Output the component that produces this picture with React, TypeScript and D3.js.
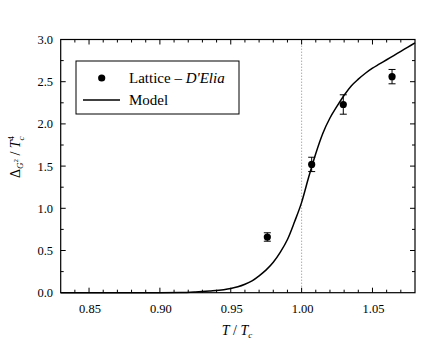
import React from "react";
import * as d3 from "d3";

const modelT = [0.83, 0.9, 0.915, 0.925, 0.935, 0.945, 0.95, 0.955, 0.96, 0.965, 0.97, 0.975, 0.98, 0.985, 0.99, 0.995, 1.0, 1.005, 1.01, 1.015, 1.02, 1.025, 1.03, 1.035, 1.04, 1.045, 1.05, 1.055, 1.06, 1.065, 1.07, 1.075, 1.08];
const modelV = [0, 0, 0.001, 0.008, 0.02, 0.036, 0.05, 0.07, 0.1, 0.14, 0.2, 0.27, 0.36, 0.48, 0.63, 0.84, 1.07, 1.37, 1.65, 1.89, 2.07, 2.21, 2.34, 2.45, 2.53, 2.6, 2.66, 2.71, 2.76, 2.81, 2.86, 2.91, 2.96];

const latticeT = [0.9758, 1.0071, 1.0294, 1.0638];
const latticeV = [0.66, 1.52, 2.23, 2.56];
const latticeErr = [0.05, 0.085, 0.115, 0.085];

const xTicks = [0.85, 0.9, 0.95, 1.0, 1.05];
const yTicks = [0, 0.5, 1.0, 1.5, 2.0, 2.5, 3.0];

const W = 436, H = 351;
const L = 60.7, R = 415, T = 39.5, B = 292.7;
const font = "'Liberation Serif', 'Times New Roman', serif";

export default function App() {
  const x = d3.scaleLinear().domain([0.83, 1.08]).range([L, R]);
  const y = d3.scaleLinear().domain([0, 3]).range([B, T]);
  const line = d3.line<number>().x((_, i) => x(modelT[i])).y((d) => y(d)).curve(d3.curveMonotoneX);

  const xMinor = d3.range(84, 108).map((v) => v / 100);
  const yMinor = d3.range(1, 12).map((v) => v * 0.25);

  return (
    <svg width={W} height={H} style={{ position: "absolute", left: 0, top: 0, background: "#fff", fontFamily: font }}>
      <rect width={W} height={H} fill="#fff" />
      <line x1={x(1.0)} x2={x(1.0)} y1={B} y2={T} stroke="#888" strokeWidth={1} strokeDasharray="1,2" />
      {xMinor.map((v, i) => {
        const major = xTicks.some((t) => Math.abs(t - v) < 1e-6);
        const len = major ? 5 : 3;
        return (
          <g key={"xt" + i}>
            <line x1={x(v)} x2={x(v)} y1={B} y2={B - len} stroke="#000" strokeWidth={1} />
            <line x1={x(v)} x2={x(v)} y1={T} y2={T + len} stroke="#000" strokeWidth={1} />
          </g>
        );
      })}
      {yMinor.map((v, i) => {
        const major = Math.abs(v * 2 - Math.round(v * 2)) < 1e-6;
        const len = major ? 5 : 3;
        return (
          <g key={"yt" + i}>
            <line x1={L} x2={L + len} y1={y(v)} y2={y(v)} stroke="#000" strokeWidth={1} />
            <line x1={R} x2={R - len} y1={y(v)} y2={y(v)} stroke="#000" strokeWidth={1} />
          </g>
        );
      })}
      <rect x={L} y={T} width={R - L} height={B - T} fill="none" stroke="#000" strokeWidth={1.2} />
      {xTicks.map((t) => (
        <text key={"xl" + t} x={x(t) + 1} y={313} textAnchor="middle" fontSize={12.5} fontFamily={font}>
          {t.toFixed(2)}
        </text>
      ))}
      {yTicks.map((t) => (
        <text key={"yl" + t} x={53} y={y(t) + 4.5} textAnchor="end" fontSize={12.5} fontFamily={font}>
          {t.toFixed(1)}
        </text>
      ))}
      <path d={line(modelV) || ""} fill="none" stroke="#000" strokeWidth={1.5} />
      {latticeT.map((t, i) => {
        const cx = x(t);
        const hi = y(latticeV[i] + latticeErr[i]);
        const lo = y(latticeV[i] - latticeErr[i]);
        return (
          <g key={"p" + i}>
            <line x1={cx} x2={cx} y1={hi} y2={lo} stroke="#000" strokeWidth={1} />
            <line x1={cx - 3.5} x2={cx + 3.5} y1={hi} y2={hi} stroke="#000" strokeWidth={1} />
            <line x1={cx - 3.5} x2={cx + 3.5} y1={lo} y2={lo} stroke="#000" strokeWidth={1} />
            <circle cx={cx} cy={y(latticeV[i])} r={3.6} fill="#000" />
          </g>
        );
      })}
      <rect x={76} y={61} width={163} height={53} fill="#fff" stroke="#000" strokeWidth={1} />
      <circle cx={101.7} cy={78} r={3.6} fill="#000" />
      <text x={129} y={83} fontSize={15} fontFamily={font}>
        Lattice – <tspan fontStyle="italic">D'Elia</tspan>
      </text>
      <line x1={83} x2={120} y1={100} y2={100} stroke="#000" strokeWidth={1.5} />
      <text x={129} y={104.5} fontSize={15} fontFamily={font}>Model</text>
      <text x={237} y={335} textAnchor="middle" fontSize={14} fontFamily={font}>
        <tspan fontStyle="italic">T</tspan> / <tspan fontStyle="italic">T</tspan>
        <tspan fontSize={9} dy={3} fontStyle="italic">c</tspan>
      </text>
      <text transform="translate(20,157) rotate(-90)" textAnchor="middle" fontSize={14} fontFamily={font}>
        Δ<tspan fontSize={9} dy={3} fontStyle="italic">G</tspan>
        <tspan fontSize={7} dy={-5}>2</tspan>
        <tspan dy={2}> / </tspan>
        <tspan fontStyle="italic">T</tspan>
        <tspan fontSize={9} dy={4} fontStyle="italic">c</tspan>
        <tspan fontSize={9} dy={-10} dx={-4}>4</tspan>
      </text>
    </svg>
  );
}
